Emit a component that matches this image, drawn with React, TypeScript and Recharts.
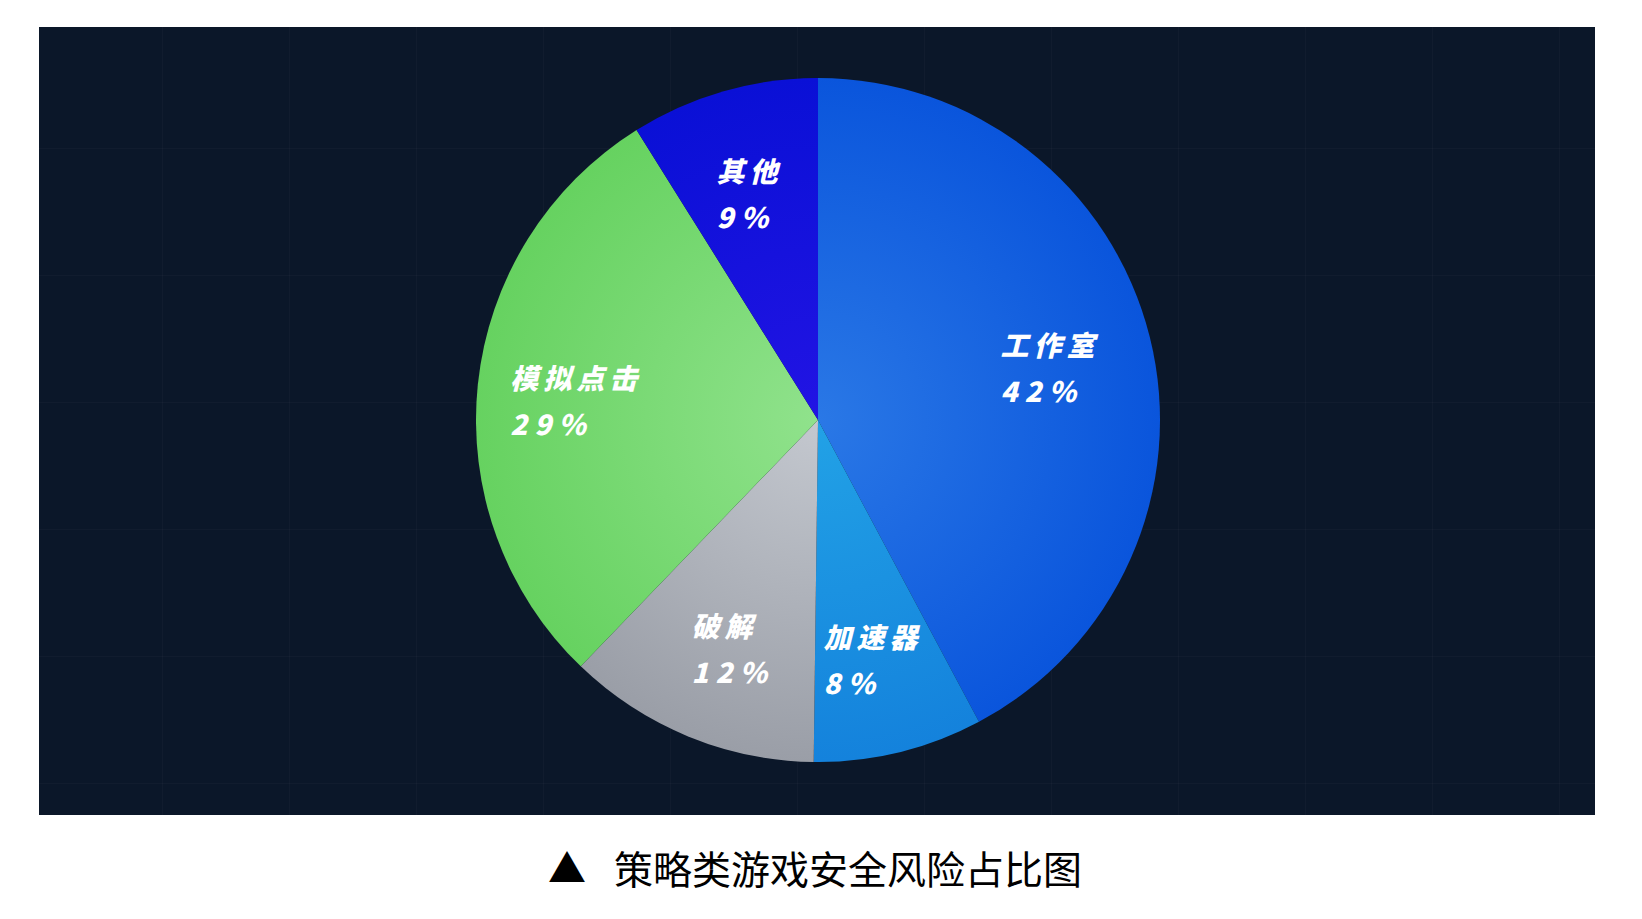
import React from 'react';
import { PieChart, Pie, Cell } from 'recharts';

const categories = ['工作室', '加速器', '破解', '模拟点击', '其他'];
const values = [42.2, 8.0, 12.0, 28.9, 8.9];
const percentLabels = ['42%', '8%', '12%', '29%', '9%'];
const innerColors = ['#2a78e6', '#22a2e6', '#c4c8cf', '#90e28c', '#2214e4'];
const outerColors = ['#0a55dc', '#1482dc', '#9a9ea7', '#66d260', '#0a10d6'];
const titleText = '策略类游戏安全风险占比图';

const data = categories.map((name, i) => ({ name, value: values[i], label: percentLabels[i] }));

const W = 1556;
const H = 788;
const CX = 774;
const CY = 388;
const R = 342;
const RADIAN = Math.PI / 180;
const FS = 28;

const renderLabel = (props: any) => {
  const { cx, cy, midAngle, outerRadius, index } = props;
  const r = outerRadius * 0.705;
  const x = cx + r * Math.cos(-midAngle * RADIAN);
  const y = cy + r * Math.sin(-midAngle * RADIAN) + 3;
  const name = categories[index];
  const nameW = name.length * (FS + 5);
  const left = x - nameW / 2 - 2;
  const common = {
    fill: '#ffffff',
    fontFamily: '"Noto Sans CJK SC", "Noto Sans", sans-serif',
    fontWeight: 900,
    fontStyle: 'italic' as const,
    fontSize: FS,
    textAnchor: 'start' as const,
    dominantBaseline: 'central' as const,
  };
  return (
    <g>
      <text x={left} y={y - 21} {...common} letterSpacing={5}>{name}</text>
      <text x={left} y={y + 25} {...common} letterSpacing={7}>{percentLabels[index]}</text>
    </g>
  );
};

export default function App() {
  return (
    <div style={{ position: 'absolute', left: 0, top: 0, width: 1642, height: 919, background: '#ffffff' }}>
      <div
        style={{
          position: 'absolute',
          left: 39,
          top: 27,
          width: W,
          height: H,
          backgroundColor: '#0b1729',
          backgroundImage:
            'linear-gradient(to right, rgba(255,255,255,0.022) 1px, transparent 1px), linear-gradient(to bottom, rgba(255,255,255,0.022) 1px, transparent 1px)',
          backgroundSize: '127px 127px',
          backgroundPosition: '123px 121px',
        }}
      >
        <PieChart width={W} height={H}>
          <defs>
            {categories.map((c, i) => (
              <radialGradient key={c} id={`grad${i}`} gradientUnits="userSpaceOnUse" cx={CX + 5} cy={CY + 5} r={R}>
                <stop offset="0%" stopColor={innerColors[i]} />
                <stop offset="100%" stopColor={outerColors[i]} />
              </radialGradient>
            ))}
          </defs>
          <Pie
            data={data}
            dataKey="value"
            nameKey="name"
            cx={CX}
            cy={CY}
            outerRadius={R}
            startAngle={90}
            endAngle={-270}
            stroke="none"
            label={renderLabel}
            labelLine={false}
            isAnimationActive={false}
          >
            {data.map((d, i) => (
              <Cell key={d.name} fill={`url(#grad${i})`} />
            ))}
          </Pie>
        </PieChart>
      </div>
      <div
        style={{
          position: 'absolute',
          left: 548,
          top: 845,
          fontFamily: '"Noto Sans CJK SC", sans-serif',
          fontSize: 38,
          lineHeight: '42px',
          color: '#000',
        }}
      >
        ▲
      </div>
      <div
        style={{
          position: 'absolute',
          left: 614,
          top: 845,
          fontFamily: '"Noto Sans CJK SC", sans-serif',
          fontSize: 39,
          lineHeight: '44px',
          color: '#000',
          whiteSpace: 'nowrap',
        }}
      >
        {titleText}
      </div>
    </div>
  );
}
